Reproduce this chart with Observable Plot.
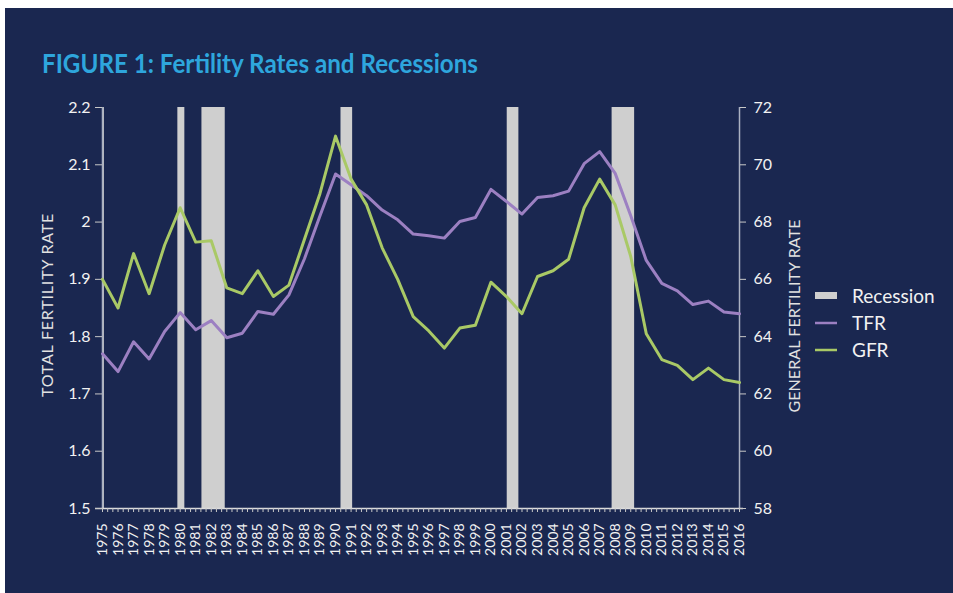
<!DOCTYPE html>
<html><head><meta charset="utf-8">
<script src="https://cdn.jsdelivr.net/npm/d3@7"></script>
<script src="https://cdn.jsdelivr.net/npm/@observablehq/plot@0.6"></script>
<style>
html,body{margin:0;padding:0;background:#fff;}
#panel{position:absolute;left:5px;top:8px;width:948px;height:585px;background:#1a2750;overflow:hidden;font-family:Lato, sans-serif;}
#chart{position:absolute;left:0;top:0;}
#title{position:absolute;left:37px;top:42px;font-size:26px;line-height:26px;font-weight:700;color:#2ea6dd;white-space:nowrap;transform-origin:0 0;}
#legend{position:absolute;left:0;top:0;pointer-events:none;}
</style></head><body>
<div id="panel"><div id="chart"></div><div id="title">FIGURE 1: Fertility Rates and Recessions</div><svg id="legend" width="948" height="585"></svg></div>
<script>
const titleText = "FIGURE 1: Fertility Rates and Recessions";
const years = [1975,1976,1977,1978,1979,1980,1981,1982,1983,1984,1985,1986,1987,1988,1989,1990,1991,1992,1993,1994,1995,1996,1997,1998,1999,2000,2001,2002,2003,2004,2005,2006,2007,2008,2009,2010,2011,2012,2013,2014,2015,2016];
const tfr = [1.770,1.739,1.791,1.761,1.809,1.842,1.812,1.828,1.798,1.806,
             1.844,1.839,1.873,1.936,2.011,2.084,2.065,2.046,2.021,2.004,
             1.979,1.976,1.972,2.001,2.008,2.057,2.036,2.014,2.043,2.046,
             2.054,2.102,2.123,2.085,2.011,1.933,1.893,1.880,1.856,1.862,
             1.843,1.840];
const gfr = [66.0,65.0,66.9,65.5,67.2,68.5,67.3,67.35,65.7,65.5,
             66.3,65.4,65.8,67.4,69.0,71.0,69.5,68.6,67.1,66.0,
             64.7,64.2,63.6,64.3,64.4,65.9,65.4,64.8,66.1,66.3,
             66.7,68.5,69.5,68.6,66.8,64.1,63.2,63.0,62.5,62.9,
             62.5,62.4];
const recessionStart = [1975.0, 1979.85, 1981.4, 1990.35, 2001.05, 2007.8];
const recessionEnd   = [1975.12, 1980.3, 1982.9, 1991.1, 2001.8, 2009.25];
const tfrTicks = [1.5,1.6,1.7,1.8,1.9,2.0,2.1,2.2];
const gfrTicks = [58,60,62,64,66,68,70,72];
const axisTitles = ["TOTAL FERTILITY RATE", "GENERAL FERTILITY RATE"];
const seriesNames = ["Recession", "TFR", "GFR"];
const colors = {recession: "#cfcfcf", tfr: "#9c80c2", gfr: "#a9c966"};

// dual-axis mapping: GFR 58..72 shares the frame with TFR 1.5..2.2
const gfrToTfr = g => 1.5 + (g - 58) / 20;
const tfrToGfr = t => 58 + (t - 1.5) * 20;

const rows = years.map((year, i) => ({year, tfr: tfr[i], gfr: gfr[i]}));
const recessions = recessionStart.map((s, i) => ({start: s, end: recessionEnd[i]}));
const minorTicks = d3.range(0, 41 * 3 + 1).map(k => 1975 + k / 3);

const chart = Plot.plot({
  width: 948, height: 585,
  marginLeft: 97, marginRight: 214, marginTop: 99, marginBottom: 85,
  style: {background: "transparent", color: "#f2f2f2", fontFamily: "Lato, sans-serif", fontSize: "16px", overflow: "visible"},
  x: {type: "linear", domain: [1975, 2016], axis: null, label: null},
  y: {domain: [1.5, 2.2], axis: null, label: null},
  marks: [
    Plot.rect(recessions, {x1: "start", x2: "end", fill: colors.recession}),
    Plot.ruleX([1975, 2016], {stroke: "#aab1c2", strokeWidth: 1.5}),
    Plot.ruleY([1.5], {stroke: "#dcdcdc", strokeWidth: 1.5, insetLeft: -7, insetRight: -4}),
    Plot.axisX(minorTicks, {tickSize: 4, tickFormat: () => "", stroke: "#c8c8c8", label: null}),
    Plot.text(years, {x: d => d, text: d => String(d), frameAnchor: "bottom", dy: 15, rotate: -90, textAnchor: "end", lineAnchor: "middle", fontSize: 14, fill: "#f2f2f2"}),
    Plot.axisY(tfrTicks, {anchor: "left", label: null, tickSize: 7, tickPadding: 5, tickFormat: d3.format("~g"), fontSize: 16, stroke: "#c8c8c8", fill: "#f2f2f2"}),
    Plot.axisY(gfrTicks.map(gfrToTfr), {anchor: "right", label: null, tickSize: 6, tickPadding: 8, tickFormat: d => String(Math.round(tfrToGfr(d))), fontSize: 16, stroke: "#c8c8c8", fill: "#f2f2f2"}),
    Plot.line(rows, {x: "year", y: "tfr", stroke: colors.tfr, strokeWidth: 3}),
    Plot.line(rows, {x: "year", y: d => gfrToTfr(d.gfr), stroke: colors.gfr, strokeWidth: 3}),
    Plot.text([axisTitles[0]], {frameAnchor: "left", dx: -55, dy: -3, rotate: -90, textAnchor: "middle", lineAnchor: "middle", fontSize: 16, fill: "#e2e2e2"}),
    Plot.text([axisTitles[1]], {frameAnchor: "right", dx: 55, dy: 8, rotate: -90, textAnchor: "middle", lineAnchor: "middle", fontSize: 16, fill: "#e2e2e2"})
  ]
});
document.getElementById("chart").appendChild(chart);
// letter spacing for the axis titles
d3.select(chart).selectAll("text").each(function() {
  const s = this.textContent;
  if (s === axisTitles[0]) this.setAttribute("letter-spacing", "0.8");
  if (s === axisTitles[1]) this.setAttribute("letter-spacing", "0.1");
});

// title width match
const t = document.getElementById("title");
t.textContent = titleText;
const tw = t.getBoundingClientRect().width;
t.style.transform = `scaleX(${436 / tw})`;

// legend
const lg = d3.select("#legend");
const items = [
  {name: seriesNames[0], kind: "rect", color: colors.recession},
  {name: seriesNames[1], kind: "line", color: colors.tfr},
  {name: seriesNames[2], kind: "line", color: colors.gfr}
];
items.forEach((it, i) => {
  const cy = 288 + i * 27;
  if (it.kind === "rect") lg.append("rect").attr("x", 810).attr("y", cy - 4).attr("width", 22).attr("height", 7).attr("fill", it.color);
  else lg.append("line").attr("x1", 810).attr("x2", 832).attr("y1", cy).attr("y2", cy).attr("stroke", it.color).attr("stroke-width", 2.5);
  lg.append("text").attr("x", 847).attr("y", cy + 6.5).attr("fill", "#f2f2f2")
    .attr("font-family", "Lato, sans-serif").attr("font-size", 19).text(it.name);
});
</script>
</body></html>
